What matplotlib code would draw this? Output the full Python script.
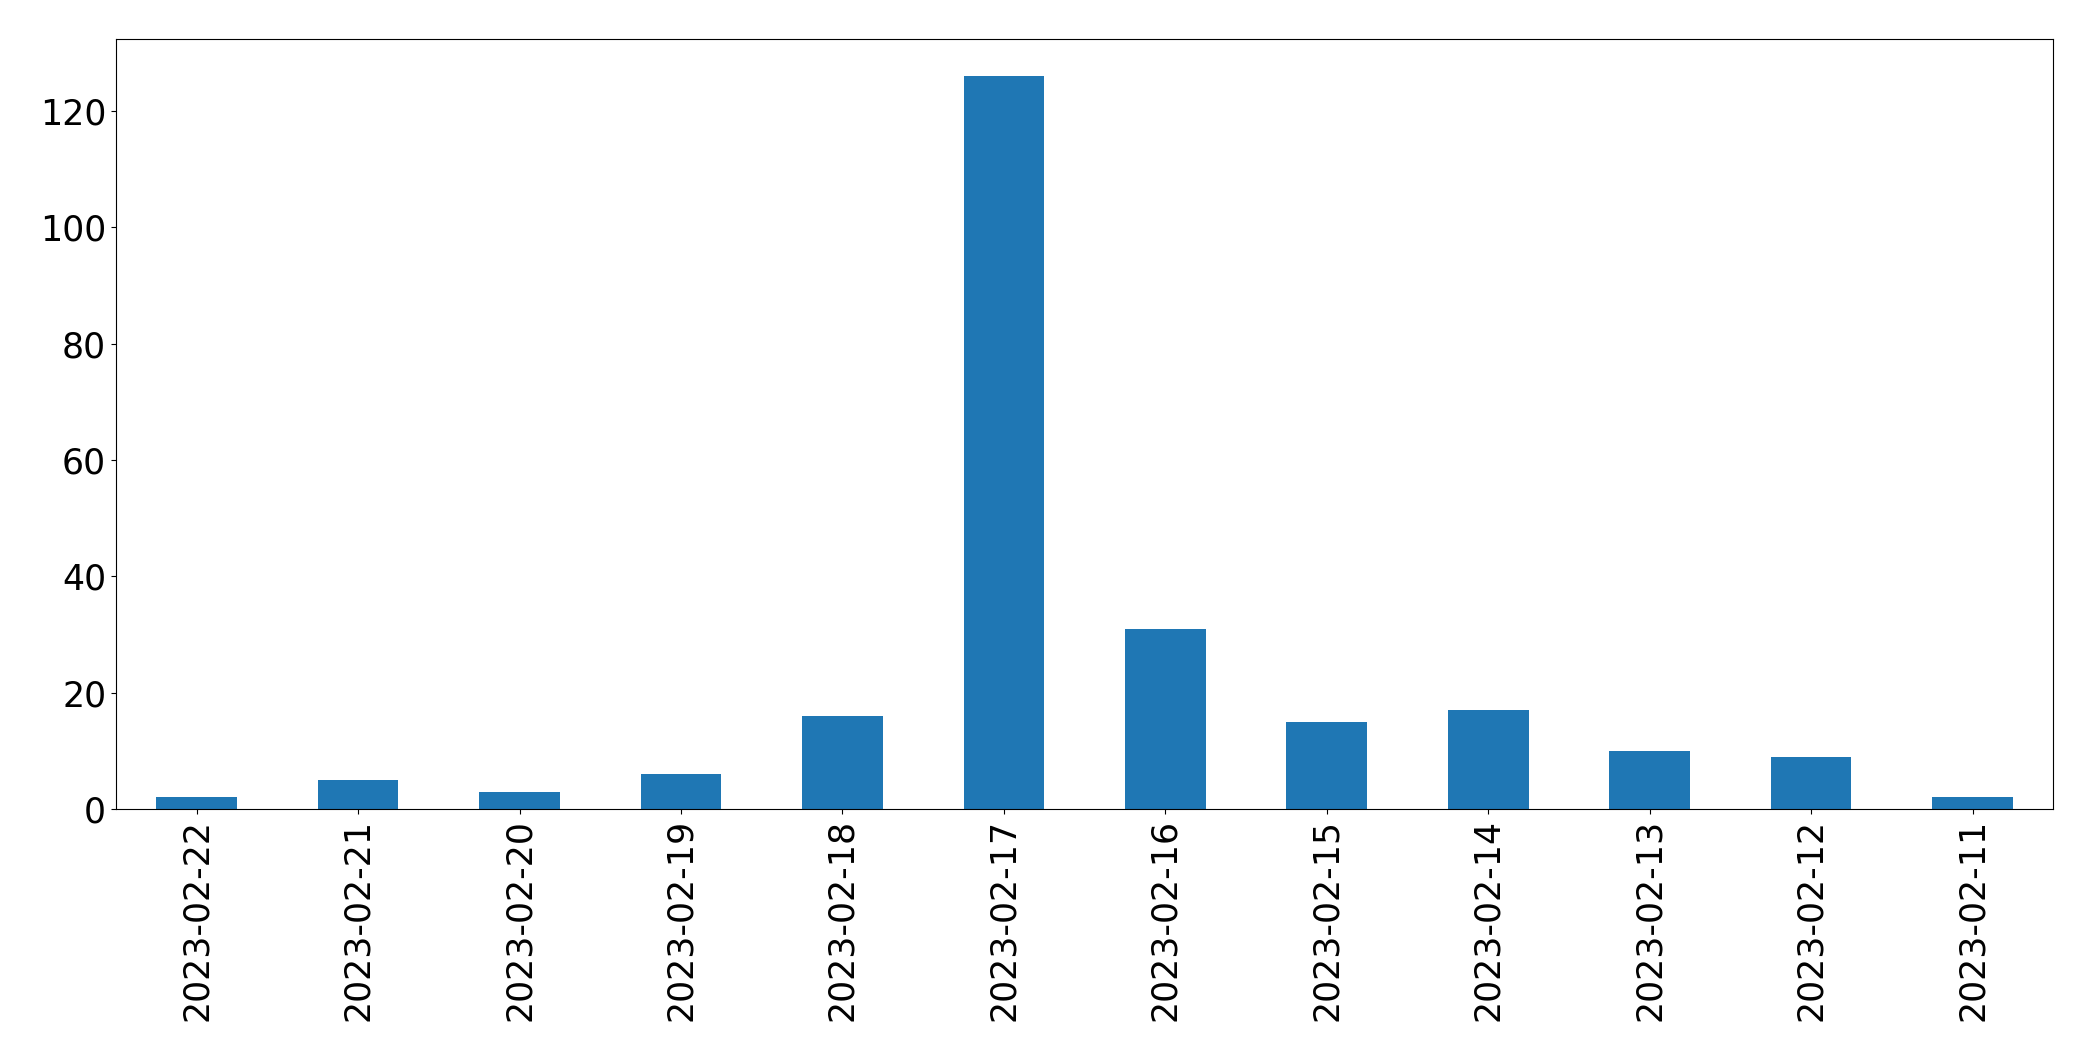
import matplotlib
matplotlib.use("Agg")
import matplotlib.pyplot as plt
import numpy as np

# dates (descending, as in the source series)
dates = ['2023-02-22', '2023-02-21', '2023-02-20', '2023-02-19', '2023-02-18', '2023-02-17',
         '2023-02-16', '2023-02-15', '2023-02-14', '2023-02-13', '2023-02-12', '2023-02-11']
counts = [2, 5, 3, 6, 16, 126, 31, 15, 17, 10, 9, 2]

fig, ax = plt.subplots(figsize=(20.93, 10.61), dpi=100)
fig.subplots_adjust(left=0.0554, right=0.981, top=0.9628, bottom=0.2375)

x = np.arange(len(dates))
ax.bar(x, counts, width=0.5, color='#1f77b4')
ax.set_xlim(-0.5, len(dates) - 0.5)
ax.set_xticks(x)
ax.set_xticklabels(dates, rotation=90)
ax.tick_params(labelsize=25)

fig.savefig('out.png', dpi=100)
